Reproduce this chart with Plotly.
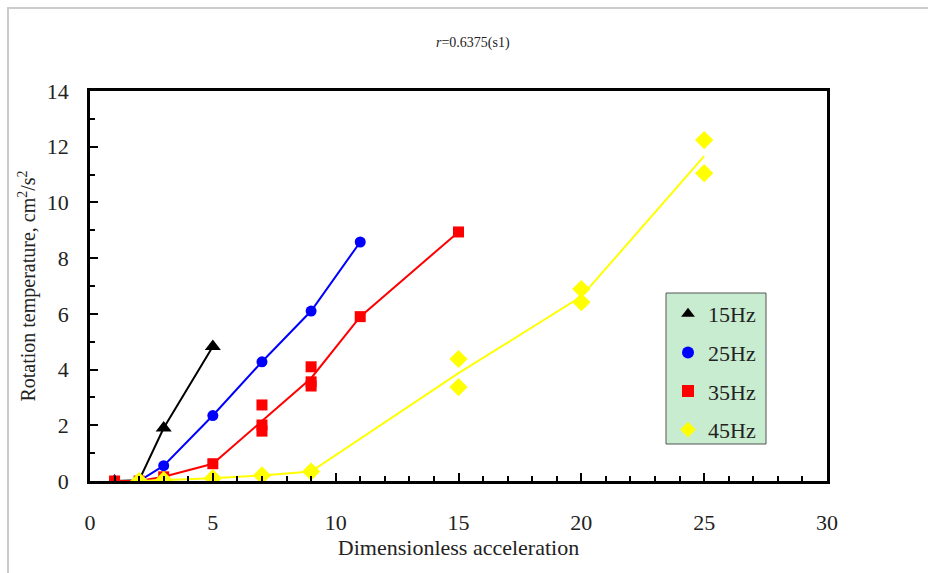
import plotly.graph_objects as go

# ---- data ----
x15 = [1, 2, 3, 5]
y15 = [0.0, 0.03, 1.9, 4.83]
lx15 = [1, 2, 3, 5]
ly15 = [0.0, 0.03, 1.9, 4.83]

x25 = [1, 2, 3, 5, 7, 9, 11]
y25 = [0.0, 0.0, 0.55, 2.35, 4.28, 6.1, 8.58]
lx25 = [1, 2, 3, 5, 7, 9, 11]
ly25 = [0.0, 0.0, 0.55, 2.35, 4.28, 6.1, 8.58]

x35 = [1, 2, 3, 5, 7, 7, 7, 9, 9, 9, 11, 15]
y35 = [0.0, 0.0, 0.15, 0.62, 2.73, 2.01, 1.79, 4.1, 3.56, 3.41, 5.9, 8.94]
lx35 = [1, 2, 3, 5, 7, 9, 11, 15]
ly35 = [0.0, 0.0, 0.15, 0.62, 2.15, 3.69, 5.9, 8.94]

x45 = [2, 3, 5, 7, 9, 15, 15, 20, 20, 25, 25]
y45 = [0.0, 0.03, 0.1, 0.2, 0.34, 4.38, 3.37, 6.89, 6.42, 12.24, 11.05]
lx45 = [2, 3, 5, 7, 9, 15, 20, 25]
ly45 = [0.0, 0.03, 0.1, 0.2, 0.34, 3.87, 6.62, 11.66]

series = [
    ("15Hz", "#000000", "triangle-up", 14, x15, y15, lx15, ly15),
    ("25Hz", "#0000ff", "circle", 11, x25, y25, lx25, ly25),
    ("35Hz", "#ff0000", "square", 11, x35, y35, lx35, ly35),
    ("45Hz", "#ffff00", "diamond", 14, x45, y45, lx45, ly45),
]

FONT = "Liberation Serif"

fig = go.Figure()
for name, color, sym, size, xs, ys, lxs, lys in series:
    fig.add_trace(go.Scatter(x=lxs, y=lys, mode="lines",
                             line=dict(color=color, width=2),
                             showlegend=False, hoverinfo="skip"))
    fig.add_trace(go.Scatter(x=xs, y=ys, mode="markers", name=name,
                             legendgroup=name,
                             marker=dict(color=color, symbol=sym, size=size,
                                         line=dict(width=0))))

axis_common = dict(
    showline=True, linecolor="black", linewidth=2.5, mirror=True,
    ticks="inside", tickcolor="black", tickwidth=2, ticklen=8,
    showgrid=False, zeroline=False,
    tickfont=dict(family=FONT, size=22, color="#222"),
)

fig.update_xaxes(range=[0, 30], dtick=5, tick0=0,
                 minor=dict(dtick=1, ticks="inside", ticklen=5, tickwidth=2, tickcolor="black"),
                 ticklabelstandoff=20,
                 title=dict(text="Dimensionless acceleration",
                            font=dict(family=FONT, size=22, color="#222"),
                            standoff=4),
                 **axis_common)
fig.update_yaxes(range=[0, 14], dtick=2, tick0=0,
                 minor=dict(dtick=1, ticks="inside", ticklen=5, tickwidth=2, tickcolor="black"),
                 ticklabelstandoff=14,
                 title=dict(text="Rotation temperature, cm<sup>2</sup>/s<sup>2</sup>",
                            font=dict(family=FONT, size=20, color="#222"),
                            standoff=6),
                 **axis_common)

LEG_X0, LEG_X1, LEG_Y0, LEG_Y1 = 666, 766, 293, 444  # pixel box of the legend

fig.update_layout(
    width=928, height=573,
    font=dict(family=FONT, size=20, color="#222"),
    margin=dict(l=90, r=101, t=91, b=92, autoexpand=False),
    paper_bgcolor="white", plot_bgcolor="white",
    showlegend=True,
    legend=dict(x=(LEG_X0 + 2 - 90) / 737, y=(481 - LEG_Y0) / 390,
                xanchor="left", yanchor="top",
                bgcolor="rgba(0,0,0,0)", borderwidth=0,
                font=dict(family=FONT, size=22, color="#222"),
                tracegroupgap=7, itemwidth=30, itemsizing="constant",
                traceorder="grouped"),
    annotations=[dict(text="<i>r</i>=0.6375(s1)", xref="paper", yref="paper",
                      x=(473 - 90) / 737, y=(481 - 33) / 390, showarrow=False,
                      font=dict(family=FONT, size=14, color="#222"))],
    shapes=[
        dict(type="rect", xref="paper", yref="paper",
             x0=(8 - 90) / 737, x1=(940 - 90) / 737,
             y0=(481 - 590) / 390, y1=(481 - 8) / 390,
             line=dict(color="#cccccc", width=2), layer="below"),
        dict(type="rect", xref="paper", yref="paper",
             x0=(LEG_X0 - 90) / 737, x1=(LEG_X1 - 90) / 737,
             y0=(481 - LEG_Y1) / 390, y1=(481 - LEG_Y0) / 390,
             fillcolor="#c8ecd0", line=dict(color="#555555", width=1), layer="above"),
    ],
)

fig.write_html("out.html")
